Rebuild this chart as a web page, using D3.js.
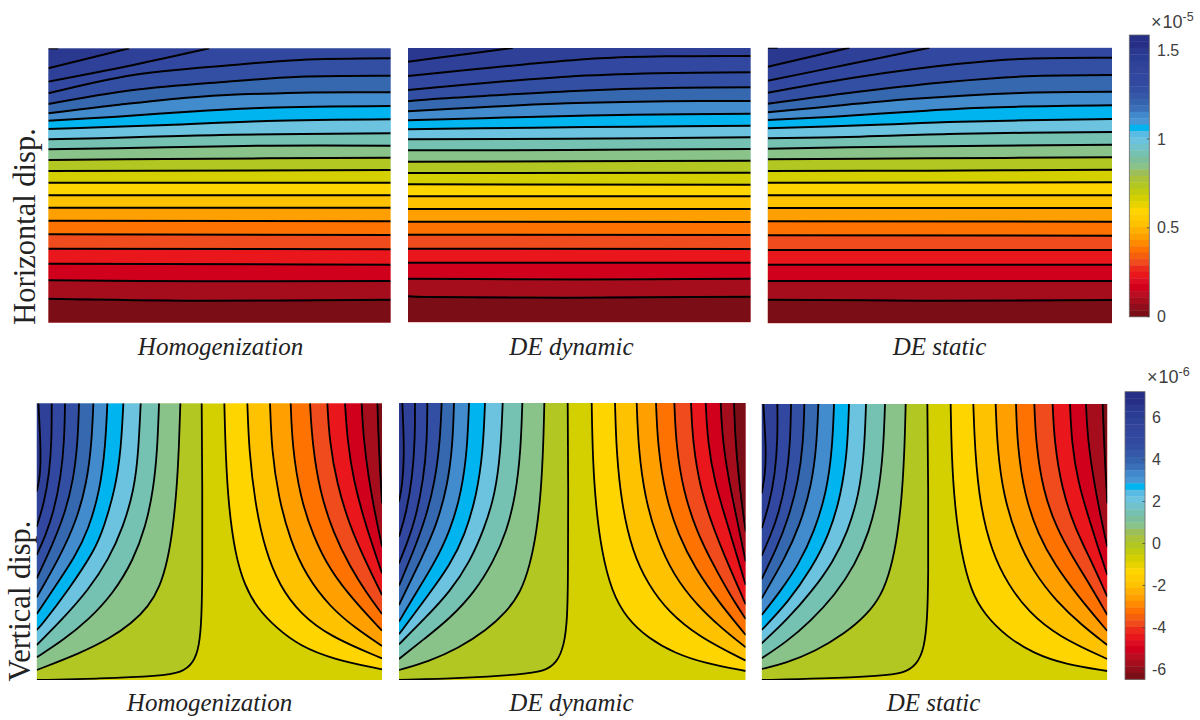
<!DOCTYPE html>
<html><head><meta charset="utf-8">
<script src="https://cdn.jsdelivr.net/npm/d3@7"></script>
<style>html,body{margin:0;padding:0;background:#fff}svg{display:block}</style>
</head><body><svg id="c" width="1200" height="720"></svg>
<script>
// Band colours, from the highest to the lowest contour level
const bandColors = ['#26308a','#2b3990','#2e4098','#32479f','#3350a4','#3568af','#438ccd','#00b4f0','#6cc3e0','#74c1b2','#8ac38a','#b3c722','#d4d000','#ffd500','#ffc200','#ffa000','#fd7200','#f04b1a','#e9141f','#d0001c','#a60e1e','#7a0a14'];
const colorbarColors = ['#252f85','#252f85','#2a3890','#2c3d94','#2f4298','#31459b','#32479f','#33499f','#3350a4','#3458a9','#3563ad','#3a70b8','#4288cd','#4896d4','#00b4f0','#58bce4','#6cc3e0','#72c2cc','#74c1b2','#7dbf9d','#8ac38a','#9cbf5a','#aac33a','#b3c722','#c2cb10','#d4d000','#e8d300','#ffd500','#ffcc00','#ffc200','#ffb000','#ffa000','#ff8a00','#fd7200','#f65e10','#f04b1a','#ec2c1c','#e9141f','#dc0a20','#d0001c','#bb0820','#a60e1e','#900d1a','#7a0a14'];

// Horizontal displacement contours, digitized units of each panel
const hHomog = [
 [[145,55],[175,55]],
 [[145,115],[388,55]],
 [[145,155],[400,105],[628,55]],
 [[145,190],[400,135],[700,105],[900,90],[1172,85]],
 [[145,222],[400,180],[680,155],[900,140],[1172,137]],
 [[145,250],[350,225],[600,200],[900,188],[1172,187]],
 [[145,272],[350,260],[600,243],[800,233],[1172,228]],
 [[145,297],[300,292],[500,285],[800,273],[1172,268]],
 [[145,328],[400,322],[700,314],[1172,310]],
 [[145,358],[500,352],[800,347],[1172,347]],
 [[145,390],[500,387],[1172,383]],
 [[145,423],[1172,420]],
 [[145,458.5],[1172,458.5]],
 [[145,495.5],[1172,495.5]],
 [[145,533.5],[1172,533.5]],
 [[145,572],[1172,574]],
 [[145,613],[1172,615]],
 [[145,656],[1172,658]],
 [[145,701],[1172,704]],
 [[145,751],[600,754],[1172,753]],
 [[145,806],[600,812],[1172,809]]
];
const hDynamic = [
 [[24,65],[160,47],[338,24]],
 [[24,108],[200,90],[365,74],[600,55],[800,49],[1052,48]],
 [[24,150],[290,126],[500,110],[770,100],[1052,97]],
 [[24,184],[100,177],[300,165],[540,152],[800,144],[1052,142]],
 [[24,214],[215,203],[500,190],[800,184],[1052,183]],
 [[24,241],[415,230],[700,224],[1052,221]],
 [[24,268],[400,263],[700,260],[1052,257]],
 [[24,298],[500,296],[1052,292]],
 [[24,331],[500,330],[1052,327]],
 [[24,365],[500,364],[1052,362]],
 [[24,399],[1052,398]],
 [[24,433],[1052,434]],
 [[24,469],[1052,469]],
 [[24,507],[1052,507]],
 [[24,545],[1052,546]],
 [[24,584],[1052,585]],
 [[24,626],[1052,627]],
 [[24,668],[1052,668]],
 [[24,716],[350,718],[760,718],[1052,716]],
 [[24,769],[80,771],[500,773],[1052,770]]
];
const hStatic = [
 [[23,23],[53,23]],
 [[23,80],[268,23]],
 [[23,122],[270,72],[508,23]],
 [[23,158],[300,110],[590,72],[800,56],[1056,53]],
 [[23,191],[320,152],[570,125],[800,109],[1056,105]],
 [[23,217],[170,203],[450,177],[800,158],[1056,155]],
 [[23,240],[220,230],[500,212],[670,203],[1056,196]],
 [[23,265],[330,255],[600,245],[1056,237]],
 [[23,295],[300,290],[600,281],[1056,276]],
 [[23,326],[400,320],[1056,314]],
 [[23,358],[500,355],[1056,352]],
 [[23,393],[500,392],[1056,389]],
 [[23,428],[1056,427]],
 [[23,466],[1056,466]],
 [[23,504],[1056,504]],
 [[23,544],[1056,545]],
 [[23,586],[1056,587]],
 [[23,630],[1056,630]],
 [[23,674],[1056,674]],
 [[23,723],[1056,723]],
 [[23,779],[500,782],[1056,780]]
];

// Vertical displacement contours: left family (outermost first, central line last), then right family
const vHomogLeft = [
 [[115,40],[120,130],[122,200],[120,260],[110,305]],
 [[155,40],[155,150],[148,250],[132,340],[110,410]],
 [[195,40],[193,150],[183,260],[160,370],[135,440],[110,495]],
 [[237,40],[233,160],[220,270],[195,370],[155,470],[110,565]],
 [[280,40],[275,160],[260,280],[230,390],[180,500],[110,622]],
 [[322,40],[316,170],[300,300],[265,420],[225,500],[165,590],[110,672]],
 [[370,40],[363,180],[345,300],[312,410],[285,480],[205,600],[125,705],[110,720]],
 [[422,40],[415,190],[402,300],[370,410],[325,510],[265,600],[185,690],[110,765]],
 [[477,40],[472,180],[460,300],[437,410],[400,510],[340,610],[265,690],[190,750],[110,802]],
 [[541,40],[537,170],[530,300],[518,420],[503,510],[480,590],[445,650],[395,700],[330,745],[240,790],[110,840]],
 [[605,40],[607,300],[607,550],[605,680],[598,770],[580,820],[545,848],[480,858],[300,866],[110,870]]
];
const vHomogRight = [
 [[673,40],[677,200],[686,350],[705,490],[733,585],[772,655],[830,715],[900,768],[1000,808],[1146,838]],
 [[742,40],[747,180],[765,340],[795,480],[840,590],[900,670],[990,740],[1146,805]],
 [[810,40],[815,180],[835,320],[870,450],[920,560],[990,650],[1060,710],[1146,768]],
 [[872,40],[877,170],[900,320],[940,440],[990,540],[1060,630],[1146,722]],
 [[930,40],[937,160],[958,300],[1000,430],[1050,530],[1100,610],[1146,672]],
 [[982,40],[988,150],[1010,280],[1050,410],[1095,510],[1146,615]],
 [[1035,40],[1042,150],[1060,270],[1095,400],[1146,550]],
 [[1085,40],[1090,140],[1105,260],[1125,370],[1146,470]],
 [[1132,40],[1135,130],[1140,240],[1146,340]]
];
const vDynamicLeft = [
 [[22,24],[26,120],[27,190],[22,270],[12,320]],
 [[60,24],[60,130],[53,240],[35,350],[12,425]],
 [[97,24],[96,140],[86,250],[62,370],[38,440],[12,505]],
 [[140,24],[135,140],[120,260],[92,370],[55,470],[12,572]],
 [[177,24],[173,150],[158,270],[125,390],[80,490],[12,630]],
 [[222,24],[217,160],[200,290],[165,410],[115,510],[65,590],[12,680]],
 [[270,24],[264,170],[245,300],[210,420],[165,510],[100,600],[12,718]],
 [[323,24],[317,170],[300,300],[268,400],[225,500],[165,590],[90,670],[12,748]],
 [[382,24],[377,170],[362,300],[335,410],[295,500],[240,590],[165,670],[90,730],[12,792]],
 [[448,24],[445,150],[438,290],[425,410],[405,510],[378,590],[335,650],[275,705],[190,760],[100,800],[12,825]],
 [[518,24],[520,300],[519,550],[517,670],[508,750],[485,805],[445,830],[380,838],[200,850],[12,855]]
];
const vDynamicRight = [
 [[590,24],[593,190],[603,340],[620,470],[650,590],[695,670],[760,730],[840,775],[930,805],[1052,828]],
 [[660,24],[664,170],[680,330],[712,470],[760,570],[820,650],[910,725],[1052,797]],
 [[725,24],[730,160],[750,310],[785,430],[835,540],[905,630],[980,700],[1052,757]],
 [[783,24],[788,150],[810,300],[850,420],[900,520],[970,620],[1052,720]],
 [[838,24],[843,150],[865,290],[905,410],[955,510],[1005,600],[1052,672]],
 [[888,24],[893,140],[915,280],[955,400],[1000,510],[1052,628]],
 [[932,24],[938,140],[958,260],[995,380],[1025,480],[1052,570]],
 [[977,24],[982,130],[1000,250],[1025,370],[1052,500]],
 [[1017,24],[1020,120],[1030,240],[1042,340],[1052,410]]
];
const vStaticLeft = [
 [[25,27],[30,110],[33,180],[30,240],[20,295]],
 [[67,27],[68,130],[60,240],[42,330],[20,400]],
 [[108,27],[106,140],[95,250],[70,360],[45,425],[20,482]],
 [[148,27],[145,140],[130,260],[100,370],[65,460],[20,552]],
 [[190,27],[185,150],[170,270],[135,390],[90,490],[20,610]],
 [[237,27],[232,160],[215,290],[178,410],[130,510],[75,590],[20,660]],
 [[282,27],[277,170],[258,300],[222,420],[170,520],[100,620],[20,705]],
 [[333,27],[328,170],[312,300],[278,410],[235,500],[170,590],[95,675],[20,745]],
 [[390,27],[385,170],[370,300],[343,410],[300,510],[240,600],[165,680],[95,740],[20,790]],
 [[452,27],[449,150],[442,290],[428,420],[408,520],[380,600],[335,660],[270,715],[180,770],[90,805],[20,822]],
 [[517,27],[520,300],[520,550],[517,670],[508,760],[485,810],[445,835],[380,842],[200,851],[20,855]]
];
const vStaticRight = [
 [[587,27],[590,190],[600,340],[618,470],[648,590],[690,660],[755,725],[835,775],[930,808],[1057,828]],
 [[655,27],[660,170],[675,330],[710,470],[760,570],[820,650],[910,725],[1057,792]],
 [[722,27],[727,160],[745,300],[785,430],[835,530],[905,620],[980,690],[1057,750]],
 [[783,27],[787,150],[808,300],[850,420],[900,510],[970,605],[1057,708]],
 [[838,27],[843,150],[865,290],[905,400],[955,490],[1005,570],[1057,660]],
 [[893,27],[898,140],[920,280],[960,400],[1005,490],[1057,605]],
 [[945,27],[950,140],[968,260],[1005,380],[1030,460],[1057,540]],
 [[993,27],[998,130],[1015,250],[1038,370],[1057,455]],
 [[1043,27],[1046,110],[1051,220],[1057,325]]
];

const panelTitles = ['Homogenization','DE dynamic','DE static'];
const rowTitles = ['Horizontal disp.','Vertical disp.'];
const hTicks = [0,0.5,1,1.5];
const vTicks = [-6,-4,-2,0,2,4,6];

// layout
const svg = d3.select('#c');
const defs = svg.append('defs');
defs.append('filter').attr('id','soft').attr('x','-2%').attr('y','-2%').attr('width','104%').attr('height','104%')
  .append('feGaussianBlur').attr('stdDeviation',0.35);

let clipId = 0;
function panel(box, dom, drawFill, allLines, sw, curve){
  const x = d3.scaleLinear().domain(dom.x).range([box.x0,box.x1]);
  const y = d3.scaleLinear().domain(dom.y).range([box.y0,box.y1]);
  const id = 'cp'+(clipId++);
  defs.append('clipPath').attr('id',id).append('rect')
    .attr('x',box.x0).attr('y',box.y0).attr('width',box.x1-box.x0).attr('height',box.y1-box.y0);
  const g = svg.append('g').attr('clip-path',`url(#${id})`).append('g').attr('filter','url(#soft)');
  const line = d3.line().x(d=>x(d[0])).y(d=>y(d[1])).curve(curve);
  drawFill(g,x,y,line);
  g.selectAll('path.c').data(allLines).join('path').attr('class','c')
    .attr('d',line).attr('fill','none').attr('stroke','#000').attr('stroke-width',sw);
}
function topPanel(box, dom, lines){
  panel(box,dom,(g,x,y,line)=>{
    const first = bandColors.length - 1 - lines.length;
    g.append('rect').attr('x',box.x0).attr('y',box.y0).attr('width',box.x1-box.x0).attr('height',box.y1-box.y0)
      .attr('fill',bandColors[first]);
    lines.forEach((l,i)=>{
      const last = l[l.length-1];
      let d = line(l);
      if(last[0]<dom.x[1]) d += `L${x(dom.x[1])},${y(dom.y[0])}`;
      d += `L${x(dom.x[1])},${y(dom.y[1])}L${x(dom.x[0])},${y(dom.y[1])}Z`;
      g.append('path').attr('d',d).attr('fill',bandColors[first+i+1]);
    });
  },lines,2.0,d3.curveCatmullRom.alpha(0.5));
}
function bottomPanel(box, dom, left, right){
  panel(box,dom,(g,x,y,line)=>{
    g.append('rect').attr('x',box.x0).attr('y',box.y0).attr('width',box.x1-box.x0).attr('height',box.y1-box.y0)
      .attr('fill',bandColors[12]);
    for(let i=left.length-1;i>=0;i--){
      g.append('path').attr('d',line(left[i])+`L${x(dom.x[0])},${y(dom.y[0])}Z`).attr('fill',bandColors[i+1]);
    }
    right.forEach((l,i)=>{
      g.append('path').attr('d',line(l)+`L${x(dom.x[1])},${y(dom.y[0])}Z`).attr('fill',bandColors[13+i]);
    });
  },left.concat(right),1.8,d3.curveBasis);
}

topPanel({x0:48.3,x1:390.7,y0:48.3,y1:322.7},{x:[145,1172],y:[55,878]},hHomog);
topPanel({x0:408,x1:750.7,y0:48,y1:322.3},{x:[24,1052],y:[24,847]},hDynamic);
topPanel({x0:767.7,x1:1112,y0:47.7,y1:323.3},{x:[23,1056],y:[23,850]},hStatic);
bottomPanel({x0:36.7,x1:382,y0:403.3,y1:680},{x:[110,1146],y:[40,870]},vHomogLeft,vHomogRight);
bottomPanel({x0:399,x1:745.7,y0:403,y1:680},{x:[12,1052],y:[24,855]},vDynamicLeft,vDynamicRight);
bottomPanel({x0:761.7,x1:1107.3,y0:404,y1:680},{x:[20,1057],y:[27,855]},vStaticLeft,vStaticRight);

// panel titles
const serif = '"Liberation Serif","Times New Roman",serif';
function caption(t,cx,by){
  svg.append('text').attr('x',cx).attr('y',by).attr('text-anchor','middle')
   .attr('font-family',serif).attr('font-style','italic').attr('font-size',25)
   .attr('fill','#222').text(t);
}
[[220.5,571.5,939.5],[209.5,571.5,933.5]].forEach((cxs,r)=>{
  cxs.forEach((cx,i)=>caption(panelTitles[i],cx,r?710.5:355));
});
// row titles
function rowTitle(t,bx,cy){
  svg.append('text').attr('transform',`translate(${bx},${cy}) rotate(-90)`).attr('text-anchor','middle')
   .attr('font-family',serif).attr('font-size',30.5).attr('fill','#222').text(t);
}
rowTitle(rowTitles[0],35,226.5);
rowTitle(rowTitles[1],30,601);

// colourbars
function colorbar(b, domain, ticks, exp, labelX, tx){
  const v = d3.scaleLinear().domain(domain).range([b.y1,b.y0]);
  const band = d3.scaleBand().domain(d3.range(colorbarColors.length)).range([b.y0,b.y1]);
  const g = svg.append('g').attr('filter','url(#soft)');
  g.selectAll('rect').data(colorbarColors).join('rect')
   .attr('x',b.x0).attr('width',b.x1-b.x0).attr('y',(d,i)=>band(i)).attr('height',band.bandwidth()+0.4).attr('fill',d=>d);
  g.append('rect').attr('x',b.x0).attr('y',b.y0).attr('width',b.x1-b.x0).attr('height',b.y1-b.y0)
   .attr('fill','none').attr('stroke','#6a6a6a').attr('stroke-width',0.8);
  const axis = d3.axisRight(v).tickValues(ticks).tickSize(0).tickPadding(labelX-b.x1).tickFormat(d=>String(d));
  const ag = svg.append('g').attr('transform',`translate(${b.x1},0)`).call(axis);
  ag.select('.domain').remove();
  ag.selectAll('text').attr('font-family','"Liberation Sans",Arial,sans-serif').attr('font-size',16).attr('fill','#404040');
  svg.append('g').selectAll('line').data(ticks).join('line')
   .attr('x1',b.x1-2.5).attr('x2',b.x1).attr('y1',d=>v(d)).attr('y2',d=>v(d)).attr('stroke','#444').attr('stroke-width',0.8);
  const t = svg.append('text').attr('font-family','"Liberation Sans",Arial,sans-serif').attr('fill','#404040').attr('x',tx.x).attr('y',tx.y);
  t.append('tspan').attr('font-size',18).text('\u00d7');
  t.append('tspan').attr('font-size',18).attr('dx',1).text('10');
  t.append('tspan').attr('font-size',12.5).attr('dy',-7).text(exp);
}
colorbar({x0:1129.3,x1:1149.3,y0:35,y1:316.7},[0,1.585],hTicks,'-5',1157,{x:1151,y:27.5});
colorbar({x0:1125,x1:1145,y0:391.7,y1:679.3},[-6.47,7.23],vTicks,'-6',1152,{x:1147,y:383});
</script></body></html>
